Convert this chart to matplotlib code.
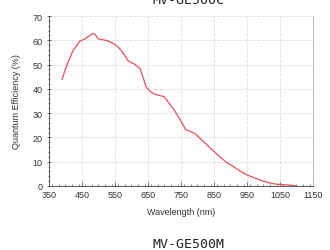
import matplotlib.pyplot as plt
from matplotlib.ticker import MultipleLocator

# wavelength (nm) and quantum efficiency (%)
wavelength = [390, 405, 423, 444, 459, 472, 483, 490, 500, 512, 523, 537, 549, 560, 570, 580,
              590, 608, 626, 635, 645, 658, 671, 685, 699, 715, 732, 745, 755, 765, 777, 795,
              808, 823, 840, 859, 875, 889, 905, 920, 935, 950, 970, 989, 1010, 1035, 1065, 1085, 1101]
qe = [44.0, 50.0, 55.7, 59.7, 60.5, 61.8, 62.8, 62.5, 60.6, 60.3, 60.0, 59.3, 58.4, 57.2, 55.7, 53.8,
      51.6, 50.3, 48.5, 45.0, 40.7, 38.9, 37.8, 37.3, 36.8, 34.0, 30.8, 28.0, 25.5, 23.2, 22.6, 21.4,
      19.6, 17.8, 15.5, 13.2, 11.2, 9.6, 8.4, 7.0, 5.7, 4.6, 3.5, 2.5, 1.6, 0.8, 0.5, 0.3, 0.0]

xticks = [350, 450, 550, 650, 750, 850, 950, 1050, 1150]
yticks = [0, 10, 20, 30, 40, 50, 60, 70]

fig = plt.figure(figsize=(3.3, 2.51), dpi=100)
ax = fig.add_axes([0.148, 0.255, 0.8, 0.677])

ax.plot(wavelength, qe, color='#e4505c', linewidth=0.9)

ax.set_xlim(350, 1150)
ax.set_ylim(0, 70)
ax.set_xticks(xticks)
ax.set_yticks(yticks)
ax.xaxis.set_minor_locator(MultipleLocator(20))
ax.yaxis.set_minor_locator(MultipleLocator(2))
ax.grid(True, which='major', color='#dddddd', linestyle='--', linewidth=0.6)

ax.tick_params(axis='both', which='major', labelsize=6.5, length=3, width=0.6, color='#555555', pad=3)
ax.tick_params(axis='both', which='minor', length=1.5, width=0.5, color='#555555')
ax.tick_params(axis='x', which='both', direction='in')
ax.tick_params(axis='y', which='both', direction='inout')
for lab in ax.get_xticklabels() + ax.get_yticklabels():
    lab.set_family('Liberation Sans')
    lab.set_color('#333333')

ax.spines['top'].set_visible(False)
ax.spines['right'].set_color('#bbbbbb')
ax.spines['left'].set_color('#555555')
ax.spines['bottom'].set_color('#555555')
for s in ax.spines.values():
    s.set_linewidth(0.7)

ax.set_xlabel('Wavelength (nm)', fontsize=6.5, family='Liberation Sans', color='#333333', labelpad=6)
ax.set_ylabel('Quantum Efficiency (%)', fontsize=6.5, family='Liberation Sans', color='#333333', labelpad=8)

fig.text(0.57, 0.985, 'MV-GE500C', ha='center', va='baseline', fontsize=9.5,
         family='DejaVu Sans Mono', color='#222222')
fig.text(0.57, 0.01, 'MV-GE500M', ha='center', va='baseline', fontsize=9.5,
         family='DejaVu Sans Mono', color='#222222')

fig.savefig('out.png', dpi=100)
